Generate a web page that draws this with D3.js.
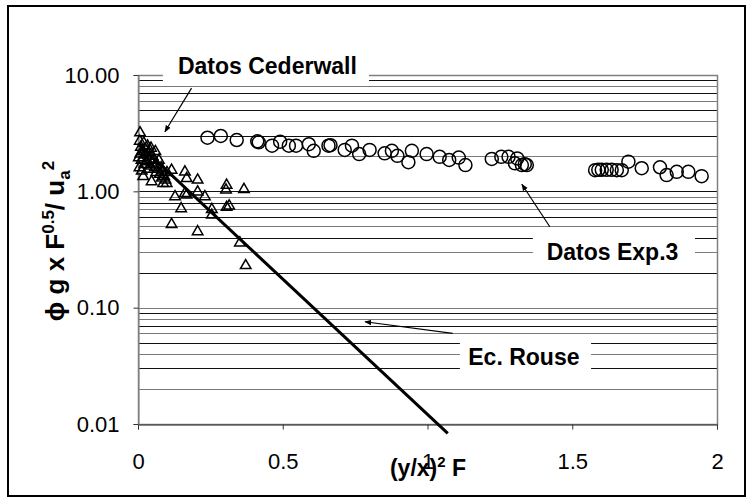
<!DOCTYPE html>
<html>
<head>
<meta charset="utf-8">
<script src="https://cdn.jsdelivr.net/npm/d3@7"></script>
<style>
  body { margin: 0; background: #fff; }
  svg { display: block; font-family: "Liberation Sans", Arial, sans-serif; }
</style>
</head>
<body>
<div class="chart"></div>
<script>
// Datos Cederwall (triangles)
const cederX = [0.007, 0.003, 0.005, 0.006, 0.008, 0.010, 0.012, 0.013, 0.015, 0.018, 0.018, 0.020, 0.022,
  0.025, 0.028, 0.030, 0.033, 0.035, 0.038, 0.040, 0.043, 0.045, 0.047, 0.048, 0.050, 0.055, 0.058,
  0.060, 0.063, 0.065, 0.070, 0.072, 0.075, 0.080, 0.082, 0.085, 0.087, 0.090, 0.095, 0.099, 0.100,
  0.116, 0.162, 0.168, 0.206, 0.306, 0.304, 0.366, 0.128, 0.162, 0.168, 0.206, 0.231, 0.149, 0.255,
  0.255, 0.306, 0.315, 0.116, 0.206, 0.352, 0.372];
const cederY = [3.19, 1.95, 1.60, 2.70, 2.10, 2.40, 1.85, 1.50, 2.20, 1.95, 1.34, 2.60, 1.70,
  2.30, 2.05, 1.80, 2.45, 1.55, 2.15, 1.90, 1.65, 2.35, 1.21, 1.75, 2.00, 1.85, 1.60,
  2.20, 1.45, 1.70, 1.55, 1.85, 1.40, 1.60, 1.30, 1.50, 1.17, 1.35, 1.25, 1.17, 1.45,
  1.52, 1.47, 1.29, 1.25, 1.13, 1.03, 1.04, 0.90, 0.96, 0.93, 0.99, 0.90, 0.71, 0.70,
  0.625, 0.73, 0.75, 0.52, 0.45, 0.36, 0.23];

// Datos Exp.3 (circles)
const expX = [0.240, 0.286, 0.341, 0.412, 0.417, 0.463, 0.491, 0.521, 0.546, 0.590, 0.607, 0.658, 0.665,
  0.714, 0.739, 0.764, 0.800, 0.852, 0.877, 0.896, 0.934, 0.946, 0.997, 1.042, 1.075, 1.108, 1.131,
  1.222, 1.255, 1.280, 1.310, 1.302, 1.326, 1.343, 1.336,
  1.579, 1.590, 1.602, 1.619, 1.636, 1.654, 1.671, 1.694, 1.740, 1.803, 1.826, 1.861, 1.901, 1.947];
const expY = [2.89, 2.99, 2.76, 2.69, 2.64, 2.47, 2.67, 2.47, 2.47, 2.54, 2.23, 2.47, 2.49,
  2.27, 2.47, 2.09, 2.27, 2.12, 2.23, 2.02, 1.78, 2.23, 2.09, 1.98, 1.86, 1.95, 1.68,
  1.90, 1.98, 1.98, 1.92, 1.74, 1.68, 1.68, 1.71,
  1.52, 1.53, 1.53, 1.53, 1.53, 1.52, 1.52, 1.80, 1.58, 1.61, 1.38, 1.47, 1.47, 1.35];

// Ec. Rouse (line, end points)
const rouseX = [0.0, 1.07];
const rouseY = [2.57, 0.0083];

// axis ticks
const xTicks = [0, 0.5, 1, 1.5, 2];
const yTicks = [0.01, 0.1, 1, 10];
const yTickLabels = ["0.01", "0.10", "1.00", "10.00"];

// annotations: label, label position, box, arrow (all in data units)
const notes = [
  {text: "Datos Cederwall", lx: 0.447, ly: 10.3, box: [0.086, 0.798, 15.2, 8.5], from: [0.185, 7.72], to: [0.093, 3.25]},
  {text: "Datos Exp.3", lx: 1.639, ly: 0.256, box: [1.364, 1.924, 0.464, 0.219], from: [1.4225, 0.496], to: [1.326, 1.15]},
  {text: "Ec. Rouse", lx: 1.333, ly: 0.0321, box: [1.112, 1.565, 0.0548, 0.0279], from: [1.087, 0.0601], to: [0.784, 0.0757]}
];

const W = 751, H = 502;
const plot = {left: 138, right: 717, top: 75, bottom: 424};

const svg = d3.select(".chart").append("svg")
  .attr("width", W)
  .attr("height", H);

svg.append("defs").append("marker")
  .attr("id", "head")
  .attr("viewBox", "0 0 10 10")
  .attr("refX", 9).attr("refY", 5)
  .attr("markerWidth", 7).attr("markerHeight", 7)
  .attr("markerUnits", "userSpaceOnUse")
  .attr("orient", "auto")
  .append("path")
  .attr("d", "M0,1 L10,5 L0,9 z")
  .attr("fill", "black");

// outer frame
svg.append("rect")
  .attr("x", 8).attr("y", 6)
  .attr("width", 737).attr("height", 490)
  .attr("fill", "none")
  .attr("stroke", "black")
  .attr("stroke-width", 2);

const xScale = d3.scaleLinear().domain([0, 2]).range([plot.left, plot.right]);
const yScale = d3.scaleLog().domain([0.01, 10]).range([plot.bottom, plot.top]);

// grid lines: every 1..9 in each decade
const gridVals = [];
[0.01, 0.1, 1].forEach(d => { for (let k = 1; k < 10; k++) gridVals.push(d * k); });
gridVals.push(10);

svg.append("g")
  .selectAll("line")
  .data(gridVals)
  .join("line")
  .attr("x1", plot.left).attr("x2", plot.right)
  .attr("y1", d => Math.round(yScale(d)) + 0.5)
  .attr("y2", d => Math.round(yScale(d)) + 0.5)
  .attr("stroke", (d, i) => i % 2 ? "#7a7a7a" : "#111")
  .attr("stroke-width", 1);

// plot border (left / right gray)
svg.append("rect")
  .attr("x", plot.left + 0.5).attr("y", plot.top + 0.5)
  .attr("width", plot.right - plot.left).attr("height", plot.bottom - plot.top)
  .attr("fill", "none")
  .attr("stroke", "#808080")
  .attr("stroke-width", 1.5);

// x axis
svg.append("g")
  .attr("transform", `translate(0, ${plot.bottom + 0.5})`)
  .call(d3.axisBottom(xScale).tickValues(xTicks).tickSize(5).tickFormat(d3.format("")))
  .call(g => g.select(".domain").attr("stroke", "#333"))
  .call(g => g.selectAll(".tick line").attr("stroke", "#333"))
  .call(g => g.selectAll(".tick text")
    .attr("font-size", 22)
    .attr("font-family", "Liberation Sans, Arial, sans-serif")
    .attr("fill", "black")
    .attr("dy", 0)
    .attr("y", 44));

// y axis
svg.append("g")
  .attr("transform", `translate(${plot.left + 0.5}, 0)`)
  .call(d3.axisLeft(yScale).tickValues(yTicks).tickSize(5).tickFormat((d, i) => yTickLabels[i]))
  .call(g => g.select(".domain").attr("stroke", "#808080"))
  .call(g => g.selectAll(".tick line").attr("stroke", "#333"))
  .call(g => g.selectAll(".tick text")
    .attr("font-size", 22)
    .attr("font-family", "Liberation Sans, Arial, sans-serif")
    .attr("fill", "black")
    .attr("x", -19));

// Rouse line
const line = d3.line()
  .x(d => xScale(d[0]))
  .y(d => yScale(d[1]));

svg.append("path")
  .datum(d3.zip(rouseX, rouseY))
  .attr("fill", "none")
  .attr("stroke", "black")
  .attr("stroke-width", 3)
  .attr("d", line);

// triangles
svg.append("g")
  .selectAll("path")
  .data(d3.zip(cederX, cederY))
  .join("path")
  .attr("transform", d => `translate(${xScale(d[0])},${yScale(d[1])})`)
  .attr("d", d3.symbol(d3.symbolTriangle, 48))
  .attr("fill", "none")
  .attr("stroke", "black")
  .attr("stroke-width", 1.5);

// circles
svg.append("g")
  .selectAll("circle")
  .data(d3.zip(expX, expY))
  .join("circle")
  .attr("cx", d => xScale(d[0]))
  .attr("cy", d => yScale(d[1]))
  .attr("r", 6.5)
  .attr("fill", "none")
  .attr("stroke", "black")
  .attr("stroke-width", 1.5);

// annotations
const ann = svg.append("g").selectAll("g").data(notes).join("g");

ann.append("rect")
  .attr("x", d => xScale(d.box[0]))
  .attr("y", d => yScale(d.box[2]))
  .attr("width", d => xScale(d.box[1]) - xScale(d.box[0]))
  .attr("height", d => yScale(d.box[3]) - yScale(d.box[2]))
  .attr("fill", "white");

ann.append("text")
  .attr("x", d => xScale(d.lx))
  .attr("y", d => yScale(d.ly))
  .attr("text-anchor", "middle")
  .attr("font-size", 23)
  .attr("font-weight", "bold")
  .text(d => d.text);

ann.append("line")
  .attr("x1", d => xScale(d.from[0]))
  .attr("y1", d => yScale(d.from[1]))
  .attr("x2", d => xScale(d.to[0]))
  .attr("y2", d => yScale(d.to[1]))
  .attr("stroke", "black")
  .attr("stroke-width", 1.2)
  .attr("marker-end", "url(#head)");

// x axis title
const xt = svg.append("text")
  .attr("x", 428).attr("y", 476)
  .attr("text-anchor", "middle")
  .attr("font-size", 23)
  .attr("font-weight", "bold");
xt.append("tspan").text("(y/x)");
xt.append("tspan").attr("dy", -9).attr("font-size", 15).text("2");
xt.append("tspan").attr("dy", 9).text(" F");

// y axis title
const yt = svg.append("text")
  .attr("transform", "translate(64,241) rotate(-90)")
  .attr("text-anchor", "middle")
  .attr("font-size", 26)
  .attr("font-weight", "bold");
yt.append("tspan").text("ϕ g x F");
yt.append("tspan").attr("dy", -10).attr("font-size", 17).text("0.5");
yt.append("tspan").attr("dy", 10).text("/ u");
yt.append("tspan").attr("dy", 6).attr("font-size", 17).text("a");
yt.append("tspan").attr("dy", -16).attr("font-size", 17).text("2");
</script>
</body>
</html>
